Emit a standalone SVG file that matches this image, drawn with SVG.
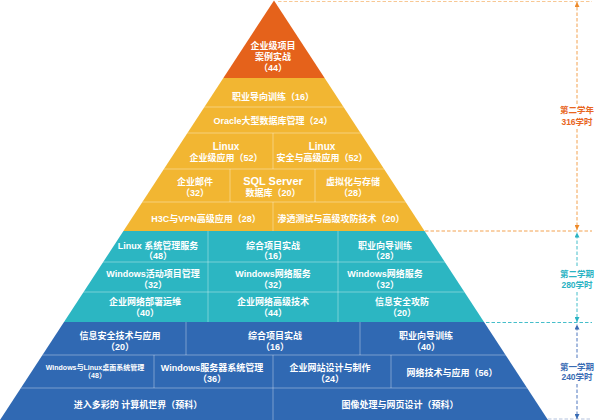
<svg xmlns="http://www.w3.org/2000/svg" width="595" height="420" viewBox="0 0 595 420">
<style>
text{font-family:"Liberation Sans","Noto Sans CJK SC",sans-serif;font-weight:bold;text-anchor:middle}
.t{fill:#fff;font-size:9px}
.s{fill:#fff;font-size:7px}
.L{fill:#fff;font-size:10px}
.XL{fill:#fff;font-size:11px}
.or{fill:#E5621B}
.ye{fill:#F2B632}
.te{fill:#2CB6C2}
.bl{fill:#3069B3}
.dv{stroke:#fff;stroke-opacity:0.45;stroke-width:0.8;fill:none}
.dO{stroke:#F3A251;stroke-width:1;stroke-dasharray:3.5 2;fill:none}
.dOp{stroke:#F8C894;stroke-width:1;stroke-dasharray:3.5 2;fill:none}
.dT{stroke:#45BECA;stroke-width:1;stroke-dasharray:3.5 2;fill:none}
.dB{stroke:#4E77BE;stroke-width:1;stroke-dasharray:3.5 2;fill:none}
.dBp{stroke:#B3C2DD;stroke-width:1;stroke-dasharray:3.5 2;fill:none}
.lO{fill:#E8661E;font-size:8.5px}
.lT{fill:#2AB3C3;font-size:8.5px}
.lB{fill:#3A6CB4;font-size:8.5px}
</style>
<defs>
<clipPath id="pyr"><polygon points="274,0.5 548,420 0,420"/></clipPath>
<marker id="aO" viewBox="0 0 6 6" refX="6" refY="3" markerWidth="5" markerHeight="5" markerUnits="userSpaceOnUse" orient="auto-start-reverse"><path d="M0,0 L6,3 L0,6 z" fill="#EE8A2A"/></marker>
<marker id="aT" viewBox="0 0 6 6" refX="6" refY="3" markerWidth="5" markerHeight="5" markerUnits="userSpaceOnUse" orient="auto-start-reverse"><path d="M0,0 L6,3 L0,6 z" fill="#2AB3C3"/></marker>
<marker id="aB" viewBox="0 0 6 6" refX="6" refY="3" markerWidth="5" markerHeight="5" markerUnits="userSpaceOnUse" orient="auto-start-reverse"><path d="M0,0 L6,3 L0,6 z" fill="#3A6CB4"/></marker>
</defs>
<rect width="595" height="420" fill="#fff"/>

<g id="pyramid" clip-path="url(#pyr)">
  <g id="n-apex"><rect class="or" x="0" y="0" width="595" height="78"/>
    <text class="t" x="273" y="48.5">企业级项目</text><text class="t" x="273" y="59.5">案例实战</text><text class="t" x="273" y="71">（44）</text></g>
  <g id="n-y1"><rect class="ye" x="0" y="78" width="595" height="29"/>
    <text class="t" x="273" y="100">职业导向训练（16）</text></g>
  <g id="n-y2"><rect class="ye" x="0" y="107" width="595" height="26"/>
    <text class="t" x="273" y="123.5">Oracle大型数据库管理（24）</text></g>
  <g id="n-y3a"><rect class="ye" x="0" y="133" width="273" height="36"/>
    <text class="L" x="226" y="150">Linux</text><text class="t" x="226" y="161">企业级应用（52）</text></g>
  <g id="n-y3b"><rect class="ye" x="273" y="133" width="322" height="36"/>
    <text class="L" x="322" y="150">Linux</text><text class="t" x="322" y="161">安全与高级应用（52）</text></g>
  <g id="n-y4a"><rect class="ye" x="0" y="169" width="230" height="33"/>
    <text class="t" x="195" y="185">企业邮件</text><text class="t" x="195" y="196">（32）</text></g>
  <g id="n-y4b"><rect class="ye" x="230" y="169" width="85" height="33"/>
    <text class="XL" x="273" y="185">SQL Server</text><text class="t" x="273" y="196">数据库（20）</text></g>
  <g id="n-y4c"><rect class="ye" x="315" y="169" width="280" height="33"/>
    <text class="t" x="353" y="185">虚拟化与存储</text><text class="t" x="353" y="196">（28）</text></g>
  <g id="n-y5a"><rect class="ye" x="0" y="202" width="273" height="29"/>
    <text class="t" x="206" y="221.5">H3C与VPN高级应用（28）</text></g>
  <g id="n-y5b"><rect class="ye" x="273" y="202" width="322" height="29"/>
    <text class="t" x="341" y="221.5">渗透测试与高级攻防技术（20）</text></g>

  <g id="n-t1a"><rect class="te" x="0" y="231" width="208" height="31"/>
    <text class="t" x="158" y="248.5">Linux 系统管理服务</text><text class="t" x="158" y="258.5">（48）</text></g>
  <g id="n-t1b"><rect class="te" x="208" y="231" width="130" height="31"/>
    <text class="t" x="273" y="248.5">综合项目实战</text><text class="t" x="273" y="258.5">（16）</text></g>
  <g id="n-t1c"><rect class="te" x="338" y="231" width="257" height="31"/>
    <text class="t" x="385" y="248.5">职业向导训练</text><text class="t" x="385" y="258.5">（28）</text></g>
  <g id="n-t2a"><rect class="te" x="0" y="262" width="208" height="30"/>
    <text class="t" x="153" y="277">Windows活动项目管理</text><text class="t" x="153" y="288">（32）</text></g>
  <g id="n-t2b"><rect class="te" x="208" y="262" width="130" height="30"/>
    <text class="t" x="273" y="277">Windows网络服务</text><text class="t" x="273" y="288">（32）</text></g>
  <g id="n-t2c"><rect class="te" x="338" y="262" width="257" height="30"/>
    <text class="t" x="385" y="277">Windows网络服务</text><text class="t" x="385" y="288">（32）</text></g>
  <g id="n-t3a"><rect class="te" x="0" y="292" width="208" height="30"/>
    <text class="t" x="145" y="305">企业网络部署运维</text><text class="t" x="145" y="316">（40）</text></g>
  <g id="n-t3b"><rect class="te" x="208" y="292" width="130" height="30"/>
    <text class="t" x="273" y="305">企业网络高级技术</text><text class="t" x="273" y="316">（44）</text></g>
  <g id="n-t3c"><rect class="te" x="338" y="292" width="257" height="30"/>
    <text class="t" x="402" y="305">信息安全攻防</text><text class="t" x="402" y="316">（20）</text></g>

  <g id="n-b1a"><rect class="bl" x="0" y="322" width="186" height="33"/>
    <text class="t" x="120" y="338.5">信息安全技术与应用</text><text class="t" x="120" y="349.5">（20）</text></g>
  <g id="n-b1b"><rect class="bl" x="186" y="322" width="174" height="33"/>
    <text class="t" x="275" y="338.5">综合项目实战</text><text class="t" x="275" y="349.5">（16）</text></g>
  <g id="n-b1c"><rect class="bl" x="360" y="322" width="235" height="33"/>
    <text class="t" x="426" y="338.5">职业向导训练</text><text class="t" x="426" y="349.5">（40）</text></g>
  <g id="n-b2a"><rect class="bl" x="0" y="355" width="154" height="33"/>
    <text class="s" x="95" y="369.5">Windows与Linux桌面系统管理</text><text class="s" x="95" y="377.5">（48）</text></g>
  <g id="n-b2b"><rect class="bl" x="154" y="355" width="119" height="33"/>
    <text class="t" x="212" y="370.5">Windows服务器系统管理</text><text class="t" x="212" y="381.5">（36）</text></g>
  <g id="n-b2c"><rect class="bl" x="273" y="355" width="118" height="33"/>
    <text class="t" x="330" y="370.5">企业网站设计与制作</text><text class="t" x="330" y="381.5">（24）</text></g>
  <g id="n-b2d"><rect class="bl" x="391" y="355" width="204" height="33"/>
    <text class="t" x="452" y="376">网络技术与应用（56）</text></g>
  <g id="n-b3a"><rect class="bl" x="0" y="388" width="273" height="32"/>
    <text class="t" x="138" y="407.5">进入多彩的 计算机世界（预科）</text></g>
  <g id="n-b3b"><rect class="bl" x="273" y="388" width="322" height="32"/>
    <text class="t" x="400" y="407.5">图像处理与网页设计（预科）</text></g>

  <g id="dividers" class="dv">
    <path d="M0,107H595M0,133H595M0,169H595M0,202H595"/>
    <path d="M273,133V169M230,169V202M315,169V202M273,202V231"/>
    <path d="M0,262H595M0,292H595M208,231V322M338,231V322"/>
    <path d="M0,355H595M0,388H595M186,322V355M360,322V355M154,355V388M273,355V388M391,355V388M273,388V420"/>
  </g>
</g>

<g id="connectors">
  <path class="dOp" d="M278,1.5H592"/>
  <path class="dO" d="M425,231H592"/>
  <path class="dT" d="M486,322.5H592"/>
  <path class="dBp" d="M548,419H592"/>
  <line class="dO" x1="577" y1="104" x2="577" y2="2" marker-end="url(#aO)"/>
  <line class="dO" x1="577" y1="129" x2="577" y2="230" marker-end="url(#aO)"/>
  <line class="dT" x1="577" y1="266" x2="577" y2="232.5" marker-end="url(#aT)"/>
  <line class="dT" x1="577" y1="292" x2="577" y2="322" marker-end="url(#aT)"/>
  <line class="dB" x1="577" y1="358" x2="577" y2="324.5" marker-end="url(#aB)"/>
  <line class="dB" x1="577" y1="384" x2="577" y2="419" marker-end="url(#aB)"/>
</g>

<g id="labels">
  <g id="n-year2"><text class="lO" x="577" y="113">第二学年</text><text class="lO" x="577" y="124.5">316学时</text></g>
  <g id="n-term2"><text class="lT" x="577" y="276.5">第二学期</text><text class="lT" x="577" y="287.5">280学时</text></g>
  <g id="n-term1"><text class="lB" x="577" y="369.5">第一学期</text><text class="lB" x="577" y="380">240学时</text></g>
</g>
</svg>
